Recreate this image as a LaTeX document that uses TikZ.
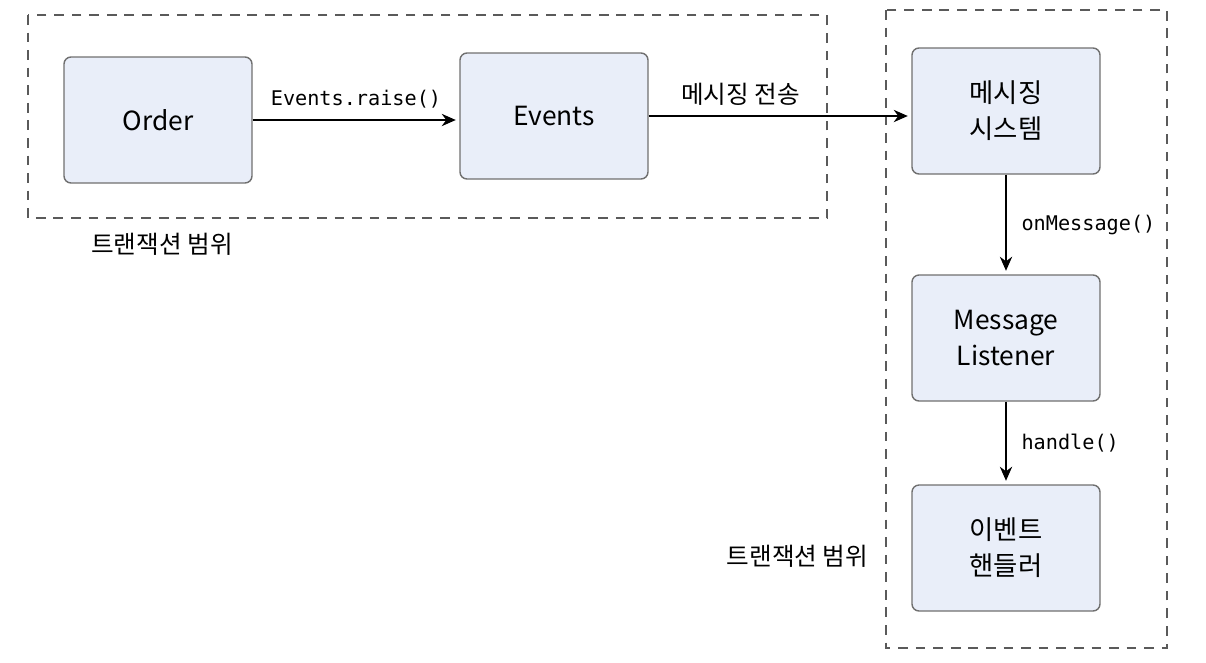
\documentclass[tikz,border=0pt]{standalone}
\usepackage{fontspec}
\setmainfont{Noto Sans CJK KR}
\setmonofont{DejaVu Sans Mono}
\usepackage{xcolor}
\usepackage{tikz}
\usetikzlibrary{arrows.meta}
\definecolor{boxfill}{HTML}{E9EEF9}
\definecolor{boxline}{HTML}{707070}
\definecolor{frameline}{HTML}{5A5A5A}
\tikzstyle{block} = [draw=boxline, line width=0.8pt, fill=boxfill, rounded corners=4pt, minimum width=3.76cm, minimum height=2.52cm, align=center, font=\fontsize{15}{20.5}\selectfont]
\tikzstyle{arrow} = [line width=1pt, -{Stealth[length=8pt,width=7pt]}, shorten >=2pt]
\tikzstyle{txframe} = [draw=frameline, line width=1pt, dash pattern=on 5.5pt off 4.5pt]
\tikzstyle{call} = [font=\ttfamily\fontsize{11.5}{14}\selectfont]
\tikzstyle{note} = [font=\fontsize{14}{17}\selectfont]

\begin{document}
\begin{tikzpicture}
            \useasboundingbox (0,0) rectangle (24.12,-13.24);
            % transaction frames
            \draw[txframe] (0.56,-0.30) rectangle (16.54,-4.36);
            \draw[txframe] (17.72,-0.20) rectangle (23.34,-12.96);
            \node[note] (leftscope) at (3.24,-4.88) {트랜잭션 범위};
            \node[note] (rightscope) at (15.95,-11.12) {트랜잭션 범위};
            % boxes
            \node[block] (order) at (3.16,-2.40) {Order};
            \node[block] (events) at (11.08,-2.32) {Events};
            \node[block] (msg) at (20.12,-2.22) {메시징\\시스템};
            \node[block] (listener) at (20.12,-6.76) {Message\\Listener};
            \node[block] (handler) at (20.12,-10.96) {이벤트\\핸들러};
            % connectors
            \draw[arrow] (order.east) -- (events.west |- order.east) node[call, midway, above=3pt] {Events.raise()};
            \draw[arrow] (events.east) -- (msg.west |- events.east) node[note, pos=0.35, above=2pt] {메시징 전송};
            \draw[arrow] (msg.south) -- (listener.north) node[call, midway, right=5pt] {onMessage()};
            \draw[arrow] (listener.south) -- (handler.north) node[call, midway, right=5pt] {handle()};
        \end{tikzpicture}
\end{document}
